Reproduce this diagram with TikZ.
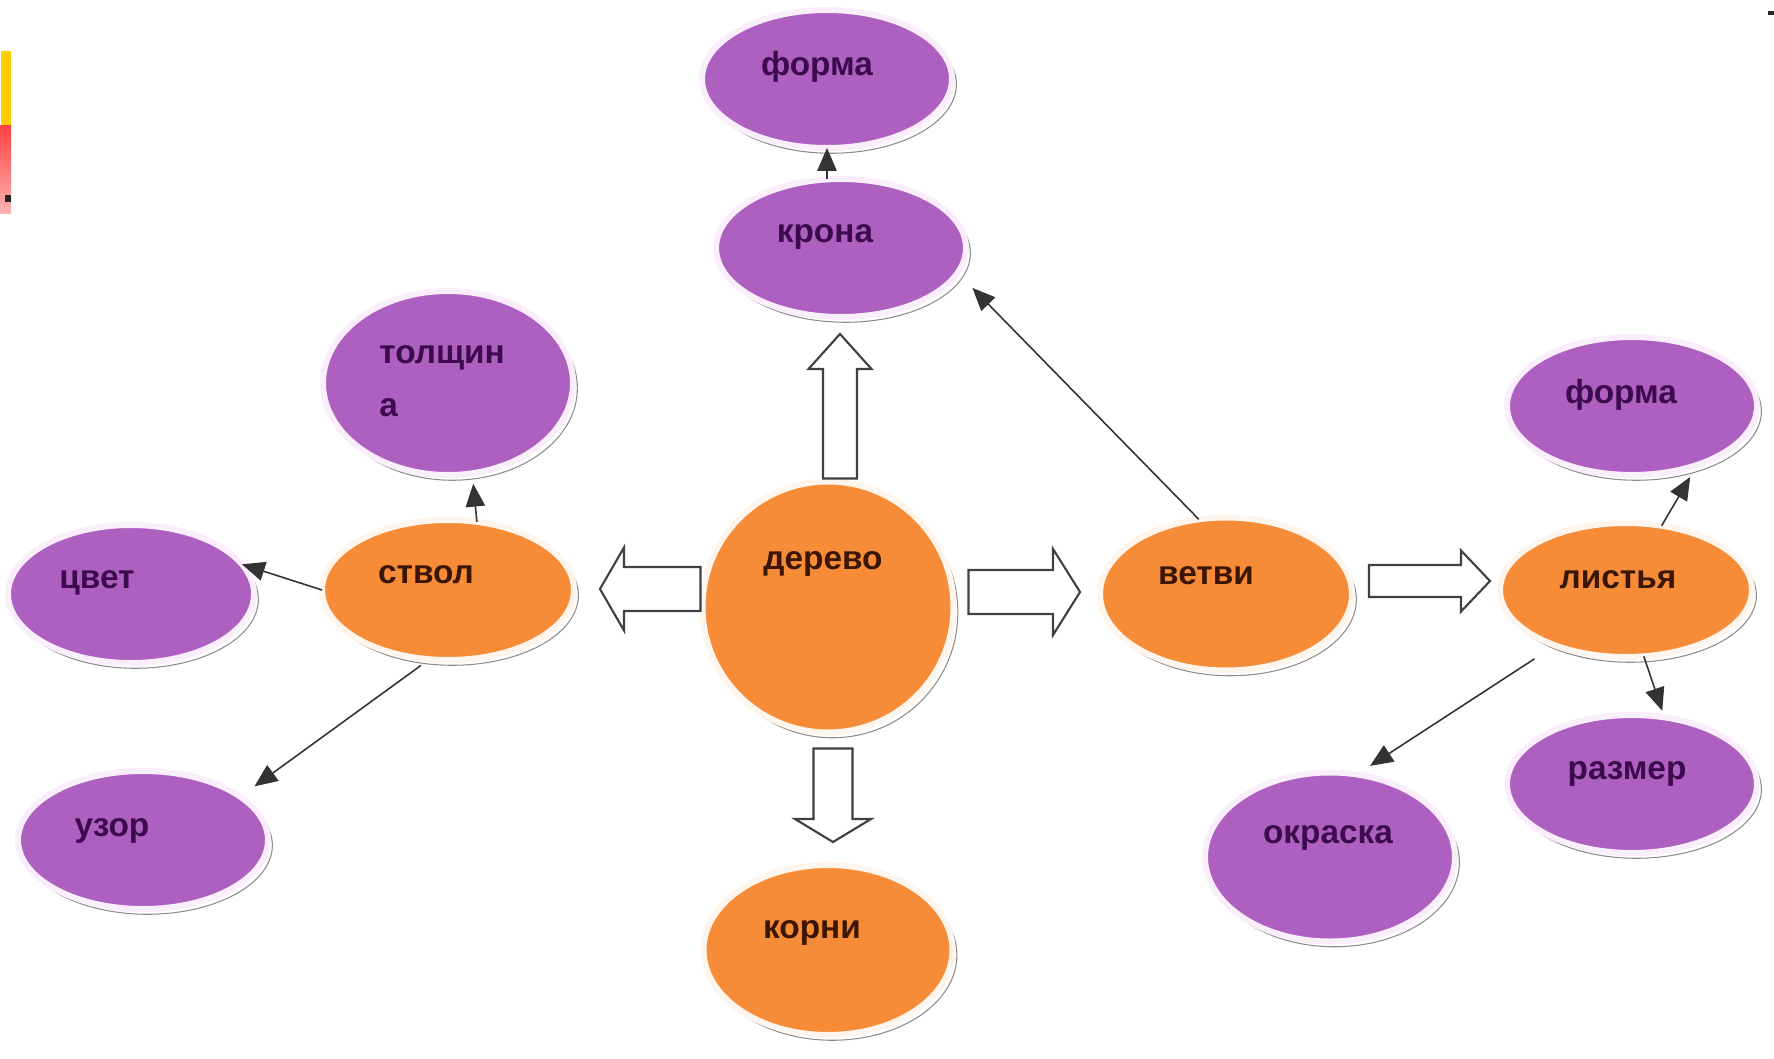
\documentclass[tikz,border=0pt]{standalone}
\usepackage{fontspec}
\setmainfont{Liberation Sans}
\usetikzlibrary{shapes.geometric,calc,arrows.meta,shadows}

\definecolor{lilacfill}{HTML}{AD60C0}
\definecolor{lilachalo}{HTML}{FAEEFC}
\definecolor{lilacink}{HTML}{3D0A4E}
\definecolor{orangefill}{HTML}{F68C38}
\definecolor{orangehalo}{HTML}{FFF5EC}
\definecolor{orangeink}{HTML}{3C1604}
\definecolor{markyellow}{HTML}{FFCC00}

% hollow block arrow: shaft half width, head half width, head length
\tikzset{fat/.style n args={3}{draw=black!75, fill=white, line width=1.2pt, line join=miter,
	to path={($(\tikztotarget)!#3!(\tikztostart)$) coordinate (fatneck)
		($(\tikztostart)!#1!90:(fatneck)$) -- ($(fatneck)!#1!-90:(\tikztostart)$)
		-- ($(fatneck)!#2!-90:(\tikztostart)$) -- (\tikztotarget)
		-- ($(fatneck)!#2!90:(\tikztostart)$) -- ($(fatneck)!#1!90:(\tikztostart)$)
		-- ($(\tikztostart)!#1!-90:(fatneck)$) -- cycle}}}

\begin{document}
\begin{tikzpicture}[x=0.02cm,y=-0.02cm]
	\tikzstyle{leaf}=[ellipse, fill=lilacfill, draw=lilachalo, line width=3.4pt, inner sep=0pt, outer sep=0pt, minimum width=5cm, minimum height=2.76cm, drop shadow={shadow xshift=2.5pt, shadow yshift=-3pt, fill=white, draw=black!45, line width=0.6pt, opacity=1}]
	\tikzstyle{part}=[leaf, fill=orangefill, draw=orangehalo, minimum width=5.04cm, minimum height=2.8cm]
	\tikzstyle{lbl}=[font=\bfseries\fontsize{19}{23}\selectfont, anchor=base, inner sep=0pt, text=lilacink]
	\tikzstyle{lblo}=[lbl, text=orangeink]
	\tikzstyle{pointer}=[draw=black!80, line width=0.9pt, -{Triangle[length=13pt,width=11pt]}]

	\useasboundingbox (0,0) rectangle (1774,1058);

	% slide marks
	\fill[markyellow] (1,51) rectangle (11,125);
	\shade[top color=red!75, bottom color=red!30] (0,125) rectangle (11,213);
	\fill[black!85] (5,195) rectangle (11,202);
	\fill[black!85] (1768,11) rectangle (1774,15);

	% tree
	\node[part, circle, minimum size=5.02cm] (derevo) at (828,607) {};
	\node[part] (stvol) at (448,590) {};
	\node[part, minimum height=3.06cm] (vetvi) at (1226,594) {};
	\node[part, minimum height=2.68cm] (listya) at (1626,590) {};
	\node[part, minimum width=4.98cm, minimum height=3.4cm] (korni) at (828,950) {};
	\node[leaf] (forma1) at (827,79) {};
	\node[leaf] (krona) at (841,248) {};
	\node[leaf, minimum height=3.68cm] (tolshchina) at (448,383) {};
	\node[leaf, minimum width=4.92cm] (cvet) at (131,594) {};
	\node[leaf] (uzor) at (143,840) {};
	\node[leaf] (forma2) at (1632,406) {};
	\node[leaf] (razmer) at (1632,784) {};
	\node[leaf, minimum height=3.38cm] (okraska) at (1330,857) {};

	% texts
	\node[lblo] (derevot) at ($(derevo)+(-5,-38)$) {дерево};
	\node[lblo] (stvolt) at ($(stvol)+(-22,-7)$) {ствол};
	\node[lblo] (vetvit) at ($(vetvi)+(-20,-10)$) {ветви};
	\node[lblo] (listyat) at ($(listya)+(-8,-2)$) {листья};
	\node[lblo] (kornit) at ($(korni)+(-16,-12)$) {корни};
	\node[lbl] (forma1t) at ($(forma1)+(-10,-4)$) {форма};
	\node[lbl] (kronat) at ($(krona)+(-16,-6)$) {крона};
	\node[lbl, anchor=west, align=left] (tolshchinat) at ($(tolshchina)+(-69,-2)$) {толщин\\[7pt]а};
	\node[lbl] (cvett) at ($(cvet)+(-34,-6)$) {цвет};
	\node[lbl] (uzort) at ($(uzor)+(-31,-4)$) {узор};
	\node[lbl] (forma2t) at ($(forma2)+(-11,-3)$) {форма};
	\node[lbl] (razmert) at ($(razmer)+(-5,-5)$) {размер};
	\node[lbl] (okraskat) at ($(okraska)+(-2,-14)$) {окраска};

	% hollow arrows
	\coordinate (upTail) at ($(derevo.north)+(12,-3)$);
	\coordinate (upTip) at ($(krona.south)+(-1,17)$);
	\coordinate (leftTail) at ($(derevo.west)+(-2,-18)$);
	\coordinate (leftTip) at ($(stvol.east)+(26,-1)$);
	\coordinate (rightTail) at ($(derevo.east)+(15,-15)$);
	\coordinate (rightTip) at ($(vetvi.west)+(-20,-2)$);
	\coordinate (downTail) at ($(derevo.south)+(5,16)$);
	\coordinate (downTip) at ($(korni.north)+(5,-23)$);
	\coordinate (leafTail) at ($(vetvi.east)+(17,-13)$);
	\coordinate (leafTip) at ($(listya.west)+(-10,-9)$);
	\draw[fat={0.34cm}{0.63cm}{0.7cm}] (upTail) to (upTip);
	\draw[fat={0.44cm}{0.83cm}{0.48cm}] (leftTail) to (leftTip);
	\draw[fat={0.44cm}{0.86cm}{0.54cm}] (rightTail) to (rightTip);
	\draw[fat={0.39cm}{0.76cm}{0.46cm}] (downTail) to (downTip);
	\draw[fat={0.32cm}{0.61cm}{0.58cm}] (leafTail) to (leafTip);

	% thin arrows
	\draw[pointer] (krona.north -| forma1.south) -- (forma1.south);
	\draw[pointer, shorten >=12pt] (vetvi.110) -- (krona.-12);
	\draw[pointer] (stvol.west) -- (cvet.15);
	\draw[pointer, shorten <=6pt, shorten >=10pt] (stvol.-105) -- (uzor.24);
	\draw[pointer, shorten >=6pt] (stvol.67) -- (tolshchina.-75);
	\draw[pointer, shorten >=8pt] (listya.61) -- (forma2.-42);
	\draw[pointer, shorten >=4pt] (listya.-75) -- (razmer.64);
	\draw[pointer, shorten <=14pt, shorten >=9pt] (listya.218) -- (okraska.72);
\end{tikzpicture}
\end{document}
